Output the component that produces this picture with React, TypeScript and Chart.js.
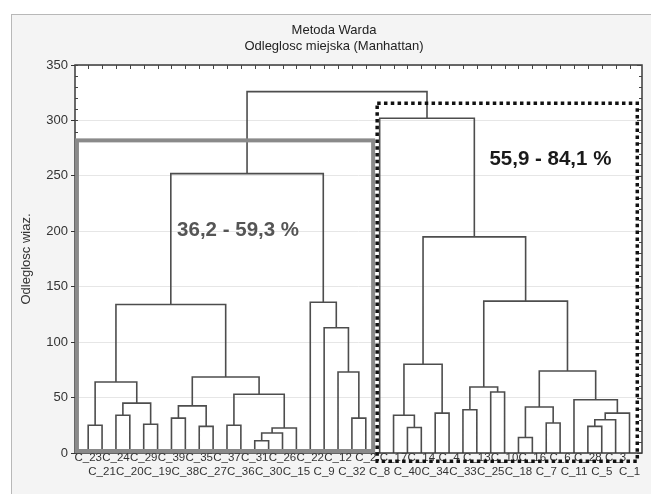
import React, { useEffect, useRef } from 'react';
import { Chart, registerables } from 'chart.js';

Chart.register(...registerables);

// Leaf order along the x axis
const leafLabels = [
  'C_23', 'C_21', 'C_24', 'C_20', 'C_29', 'C_19', 'C_39', 'C_38', 'C_35', 'C_27',
  'C_37', 'C_36', 'C_31', 'C_30', 'C_26', 'C_15', 'C_22', 'C_9', 'C_12', 'C_32',
  'C_2', 'C_8', 'C_17', 'C_40', 'C_14', 'C_34', 'C_4', 'C_33', 'C_13', 'C_25',
  'C_10', 'C_18', 'C_16', 'C_7', 'C_6', 'C_11', 'C_28', 'C_5', 'C_3', 'C_1',
];

// Linkage: ids 0..39 are leaves, id 40+k is merge k
const mergeLeft = [12, 31, 40, 42, 23, 36, 8, 0, 10, 4, 33, 45, 6, 19, 2, 22, 25, 51, 27, 41, 52, 54, 35, 48, 29, 58, 47, 60, 18, 59, 55, 17, 66, 16, 65, 70, 72, 21, 76];
const mergeRight = [13, 32, 14, 15, 24, 37, 9, 1, 11, 5, 34, 38, 7, 20, 3, 44, 26, 39, 28, 50, 46, 49, 57, 43, 30, 64, 61, 63, 53, 62, 56, 68, 67, 71, 69, 74, 73, 75, 77];
const mergeHeight = [11, 14, 18, 22.5, 23, 24, 24, 25, 25, 26, 27, 30, 31.5, 31.5, 34, 34, 36, 36, 39, 41.5, 42.5, 45, 48, 53, 55, 59.5, 64, 68.5, 73, 74, 80, 113, 134, 136, 137, 195, 252, 302, 326];

const yTicks = [0, 50, 100, 150, 200, 250, 300, 350];

const titleLines = ['Metoda Warda', 'Odleglosc miejska (Manhattan)'];
const yAxisTitle = 'Odleglosc wiaz.';
const groupLabels = ['36,2 - 59,3 %', '55,9 - 84,1 %'];

const FONT = '"Liberation Sans", Arial, Helvetica, sans-serif';

function buildPoints() {
  const pos: number[] = leafLabels.map((_, i) => i);
  const hgt: number[] = leafLabels.map(() => 0);
  const pts: { x: number; y: number | null }[] = [];
  for (let k = 0; k < mergeHeight.length; k++) {
    const l = mergeLeft[k];
    const r = mergeRight[k];
    const h = mergeHeight[k];
    pts.push({ x: pos[l], y: hgt[l] });
    pts.push({ x: pos[l], y: h });
    pts.push({ x: pos[r], y: h });
    pts.push({ x: pos[r], y: hgt[r] });
    pts.push({ x: pos[r], y: null });
    pos.push((pos[l] + pos[r]) / 2);
    hgt.push(h);
  }
  return pts;
}

const decorPlugin = {
  id: 'decor',
  beforeDraw(chart: any) {
    const { ctx, width, height, chartArea: a } = chart;
    ctx.save();
    ctx.fillStyle = '#ffffff';
    ctx.fillRect(0, 0, width, height);
    ctx.fillStyle = '#f4f4f4';
    ctx.fillRect(11, 14, width - 11, height - 14);
    ctx.strokeStyle = '#b8b8b8';
    ctx.lineWidth = 1;
    ctx.strokeRect(11.5, 14.5, width + 5, height + 5);
    ctx.fillStyle = '#ffffff';
    ctx.fillRect(a.left, a.top, a.right - a.left, a.bottom - a.top);
    ctx.restore();
  },
  afterDraw(chart: any) {
    const { ctx, chartArea: a } = chart;
    const xs = chart.scales.x;
    const ys = chart.scales.y;
    ctx.save();

    // frame
    ctx.strokeStyle = '#3a3a3a';
    ctx.lineWidth = 1.5;
    ctx.strokeRect(a.left, a.top, a.right - a.left, a.bottom - a.top);

    // small inner ticks
    ctx.lineWidth = 1;
    ctx.strokeStyle = '#444';
    ctx.beginPath();
    for (let i = 0; i < leafLabels.length; i++) {
      const px = Math.round(xs.getPixelForValue(i)) + 0.5;
      ctx.moveTo(px, a.top);
      ctx.lineTo(px, a.top + 4);
    }
    for (let v = 0; v <= 350; v += 10) {
      const py = Math.round(ys.getPixelForValue(v)) + 0.5;
      const len = v % 50 === 0 ? 5 : 3;
      ctx.moveTo(a.right, py);
      ctx.lineTo(a.right - len, py);
      ctx.moveTo(a.left, py);
      ctx.lineTo(a.left + 3, py);
    }
    ctx.stroke();

    // solid gray group box
    ctx.strokeStyle = '#8a8a8a';
    ctx.lineWidth = 4;
    {
      const x1 = xs.getPixelForValue(-0.81);
      const x2 = xs.getPixelForValue(20.53);
      const y1 = ys.getPixelForValue(282);
      const y2 = ys.getPixelForValue(0) - 2;
      ctx.strokeRect(x1, y1, x2 - x1, y2 - y1);
    }

    // dotted black group box
    ctx.strokeStyle = '#111';
    ctx.lineWidth = 3.5;
    ctx.setLineDash([3.5, 3.3]);
    {
      const x1 = xs.getPixelForValue(20.82);
      const x2 = xs.getPixelForValue(39.56);
      const y1 = ys.getPixelForValue(315.6);
      const y2 = ys.getPixelForValue(-7.5);
      ctx.strokeRect(x1, y1, x2 - x1, y2 - y1);
    }
    ctx.setLineDash([]);

    // group labels
    ctx.textAlign = 'center';
    ctx.textBaseline = 'middle';
    ctx.font = 'bold 20.5px ' + FONT;
    ctx.fillStyle = '#555555';
    ctx.fillText(groupLabels[0], xs.getPixelForValue(10.8), ys.getPixelForValue(201));
    ctx.fillStyle = '#1a1a1a';
    ctx.fillText(groupLabels[1], xs.getPixelForValue(33.3), ys.getPixelForValue(265));

    // title
    ctx.font = '13px ' + FONT;
    ctx.fillStyle = '#222';
    ctx.fillText(titleLines[0], 334, 30);
    ctx.fillText(titleLines[1], 334, 46);

    // y axis title
    ctx.translate(26, (a.top + a.bottom) / 2);
    ctx.rotate(-Math.PI / 2);
    ctx.fillStyle = '#333';
    ctx.fillText(yAxisTitle, 0, 0);

    ctx.restore();
  },
};

export default function App() {
  const ref = useRef<HTMLCanvasElement | null>(null);

  useEffect(() => {
    document.body.style.margin = '0';
    const canvas = ref.current;
    if (!canvas) return;
    const chart = new Chart(canvas, {
      type: 'line',
      data: {
        datasets: [
          {
            data: buildPoints() as any,
            borderColor: '#4d4d4d',
            borderWidth: 1.6,
            pointRadius: 0,
            fill: false,
            tension: 0,
            spanGaps: false,
          },
        ],
      },
      options: {
        responsive: false,
        animation: false,
        devicePixelRatio: 1,
        layout: { padding: { left: 0, right: 9, top: 65, bottom: 0 } },
        plugins: {
          legend: { display: false },
          tooltip: { enabled: false },
          title: { display: false },
        },
        scales: {
          x: {
            type: 'linear',
            min: -0.95,
            max: 39.9,
            afterFit: (s: any) => {
              s.height = 41;
            },
            afterBuildTicks: (s: any) => {
              s.ticks = leafLabels.map((_, i) => ({ value: i }));
            },
            grid: { display: false, drawTicks: false },
            border: { display: false },
            ticks: {
              autoSkip: false,
              maxRotation: 0,
              minRotation: 0,
              padding: -2,
              color: '#333',
              font: { family: FONT, size: 11.5, lineHeight: '14px' } as any,
              callback: (v: any) => {
                const i = Math.round(Number(v));
                const lab = leafLabels[i] ?? '';
                return i % 2 === 0 ? lab : ['', lab];
              },
            },
          },
          y: {
            type: 'linear',
            min: 0,
            max: 350,
            afterFit: (s: any) => {
              s.width = 75;
            },
            afterBuildTicks: (s: any) => {
              s.ticks = yTicks.map((v) => ({ value: v }));
            },
            grid: { color: '#e6e6e6', tickColor: '#333', tickLength: 4, lineWidth: 1 },
            border: { display: false },
            ticks: {
              padding: 3,
              color: '#333',
              font: { family: FONT, size: 13 },
            },
          },
        },
      },
      plugins: [decorPlugin],
    });
    return () => chart.destroy();
  }, []);

  return <canvas ref={ref} width={651} height={494} style={{ display: 'block', width: 651, height: 494 }} />;
}
